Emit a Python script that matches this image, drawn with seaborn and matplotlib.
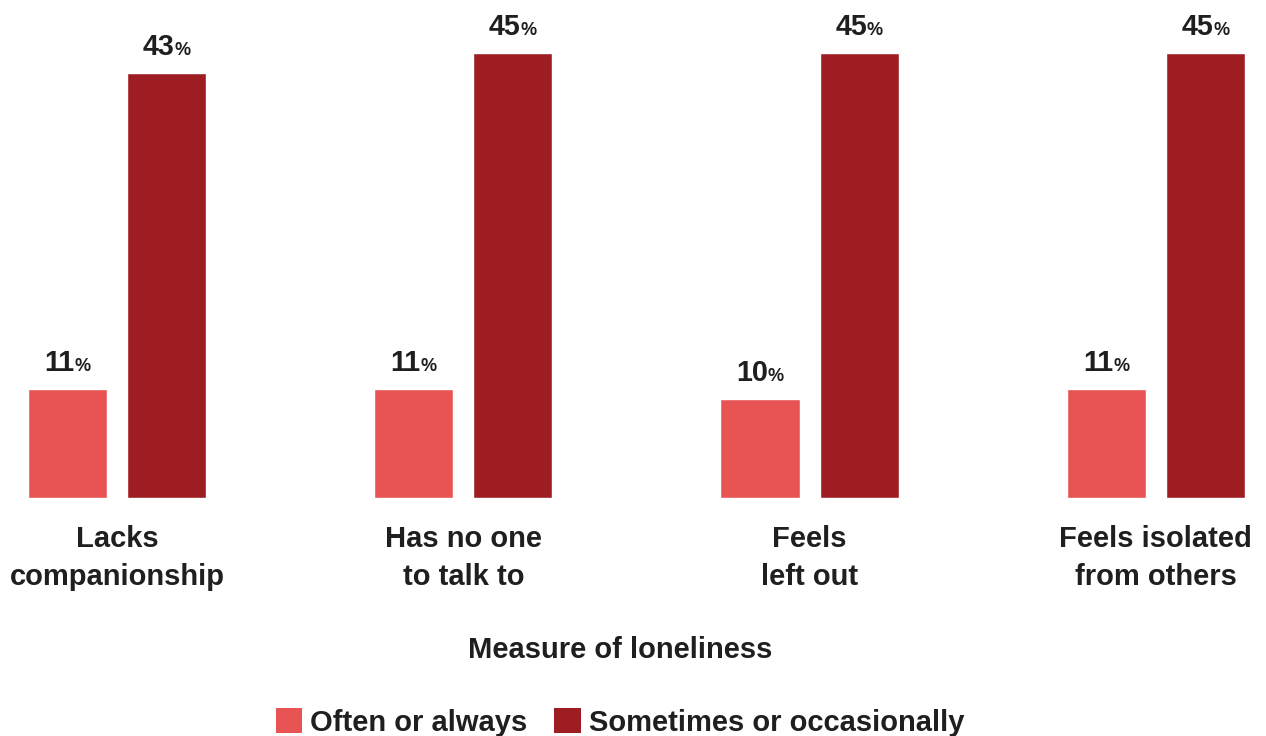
import matplotlib
matplotlib.use("Agg")
import matplotlib.pyplot as plt
from matplotlib.patches import Patch
import pandas as pd
import seaborn as sns

# Survey results: share of respondents reporting each loneliness measure
categories = ["Lacks\ncompanionship", "Has no one\nto talk to", "Feels\nleft out", "Feels isolated\nfrom others"]
series = ["Often or always", "Sometimes or occasionally"]
often_always = [11, 11, 10, 11]
sometimes = [43, 45, 45, 45]
colors = ["#E85454", "#9E1D22"]

x_title = "Measure of loneliness"

df = pd.DataFrame({
    "measure": categories * 2,
    "frequency": [series[0]] * len(categories) + [series[1]] * len(categories),
    "pct": often_always + sometimes,
})

sns.set_theme(style="white")
FONT = ["Liberation Sans", "DejaVu Sans"]
plt.rcParams["font.family"] = FONT
TEXT = "#1f1f1f"
LABEL_SIZE = 21

fig = plt.figure(figsize=(12.66, 7.36), dpi=100)
ax = fig.add_axes([0, 238 / 736, 1, 493 / 736])

sns.barplot(data=df, x="measure", y="pct", hue="frequency", hue_order=series,
            order=categories, palette=colors, width=0.572, gap=0.2,
            saturation=1, legend=False, ax=ax)

ax.set_xlim(-0.338, 3.318)
ax.set_ylim(0, 49.9)
for s in ax.spines.values():
    s.set_visible(False)
ax.set_yticks([])
ax.set_ylabel("")
ax.tick_params(axis="x", length=0, pad=19.5)
for lbl in ax.get_xticklabels():
    lbl.set_family(FONT)
    lbl.set_fontsize(LABEL_SIZE)
    lbl.set_fontweight("bold")
    lbl.set_color(TEXT)
    lbl.set_linespacing(1.45)
    lbl.set_verticalalignment("top")

ax.set_xlabel(x_title, fontsize=LABEL_SIZE, fontweight="bold", color=TEXT, family=FONT)
ax.xaxis.label.set_verticalalignment("baseline")
ax.xaxis.set_label_coords(620 / 1266, -160 / 493)

# Value labels: bold number followed by a smaller percent sign, centred over each bar
fig.canvas.draw()
renderer = fig.canvas.get_renderer()
values = [often_always, sometimes]
for container, vals in zip(ax.containers, values):
    for bar, v in zip(container, vals):
        cx = bar.get_x() + bar.get_width() / 2
        t_num = ax.annotate(f"{v}", xy=(cx, v), xytext=(0, 18), textcoords="offset pixels",
                            ha="left", va="baseline", fontsize=20.7, fontweight="bold",
                            color=TEXT, family=FONT)
        t_pct = ax.annotate("%", xy=(cx, v), xytext=(0, 18), textcoords="offset pixels",
                            ha="left", va="baseline", fontsize=13, fontweight="bold",
                            color=TEXT, family=FONT)
        w1 = t_num.get_window_extent(renderer).width
        w2 = t_pct.get_window_extent(renderer).width
        start = -(w1 + w2) / 2
        t_num.set_position((start, 18))
        t_pct.set_position((start + w1, 18))

handles = [Patch(facecolor=c, edgecolor="none") for c in colors]
fig.legend(handles, series, loc="lower center", bbox_to_anchor=(620 / 1266, -0.001), ncol=2,
           frameon=False, handlelength=0.92, handleheight=0.92,
           handletextpad=0.28, columnspacing=0.9, borderaxespad=0, borderpad=0,
           labelcolor=TEXT, prop={"weight": "bold", "size": LABEL_SIZE, "family": FONT})

fig.savefig("out.png", dpi=100)
